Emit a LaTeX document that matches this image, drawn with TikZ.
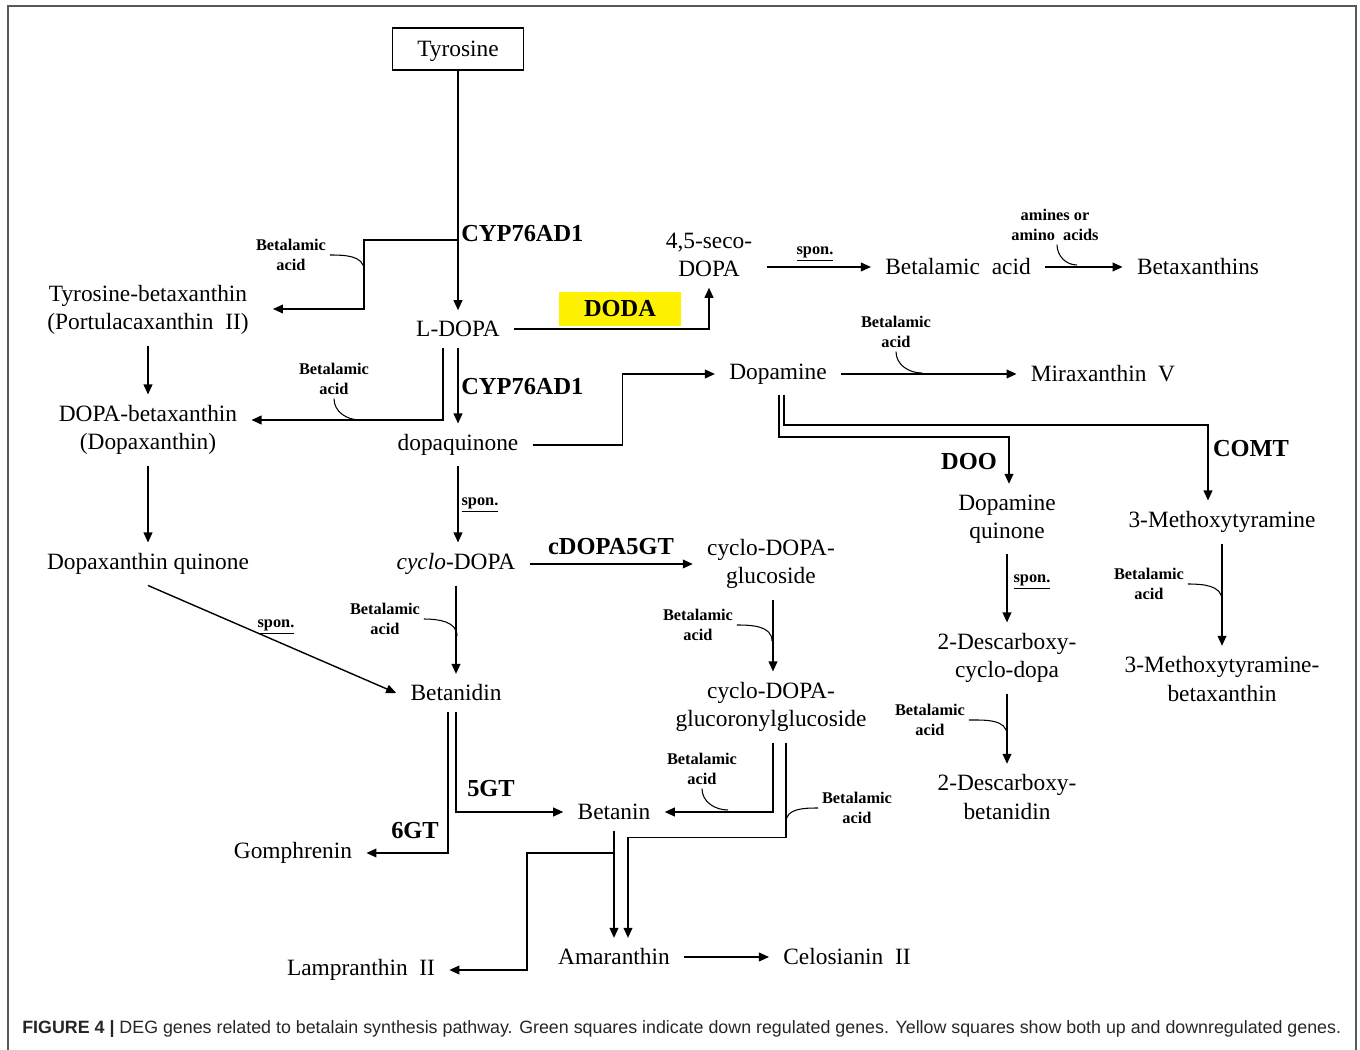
\documentclass[tikz,border=0pt]{standalone}
\usepackage{fontspec}
\setmainfont{Liberation Serif}
\newfontfamily\capfont{Liberation Sans}
\usetikzlibrary{arrows.meta,calc}
\newcommand{\molsz}{\fontsize{13.3}{16}\selectfont}
\newcommand{\gensz}{\fontsize{13.9}{16}\selectfont\bfseries}
\newcommand{\cofsz}{\fontsize{9.3}{11.4}\selectfont\bfseries}
\newcommand{\spon}{\underline{spon.}}

\begin{document}
\begin{tikzpicture}[x=0.02cm,y=-0.02cm,
  mol/.style={font=\molsz,align=center,inner xsep=8pt,inner ysep=6pt},
  gene/.style={font=\gensz,inner sep=0pt},
  cofac/.style={font=\cofsz,align=center,inner sep=2pt},
  flow/.style={-{Triangle[length=5.7pt,width=5pt]},line width=0.8pt},
  hook/.style={line width=0.6pt}
]
\useasboundingbox (0,0) rectangle (1360,1050);
\draw[black!65,line width=1pt] (8,1050) -- (8,6) -- (1356,6) -- (1356,1050);

% main column
\node[mol,draw,line width=0.8pt,minimum width=2.62cm,minimum height=0.84cm,text depth=0pt] (tyr) at (458,49) {Tyrosine};
\node[mol] (ldopa) at (458,329) {L-DOPA};
\node[mol] (dq) at (458,445) {dopaquinone};
\node[mol] (cdopa) at (456,564) {\textit{cyclo}-DOPA};
\node[mol] (btd) at (456,693) {Betanidin};
\node[mol] (btn) at (614,812) {Betanin};
\node[mol] (gom) at (293,853) {Gomphrenin};
\node[mol] (lam) at (361,970) {Lampranthin\ \ II};
\node[mol] (ama) at (614,957) {Amaranthin};
\node[mol] (cel) at (847,957) {Celosianin\ \ II};
\node[mol] (cdg) at (771,564) {cyclo-DOPA-\\glucoside};
\node[mol] (cdgg) at (771,707) {cyclo-DOPA-\\glucoronylglucoside};

% left column
\node[mol] (tbx) at (148,310) {Tyrosine-betaxanthin\\(Portulacaxanthin\ \ II)};
\node[mol] (dbx) at (148,430) {DOPA-betaxanthin\\(Dopaxanthin)};
\node[mol] (dxq) at (148,564) {Dopaxanthin quinone};

% right part
\node[mol] (seco) at (709,255) {4,5-seco-\\DOPA};
\node[mol] (bac) at (958,267) {Betalamic\ \ acid};
\node[mol] (bxs) at (1198,267) {Betaxanthins};
\node[mol] (dop) at (778,374) {Dopamine};
\node[mol] (mir) at (1103,374) {Miraxanthin\ \ V};
\node[mol] (dopq) at (1007,519) {Dopamine\\quinone};
\node[mol] (mtyr) at (1222,522) {3-Methoxytyramine};
\node[mol] (dcd) at (1007,658) {2-Descarboxy-\\cyclo-dopa};
\node[mol] (dcb) at (1007,797) {2-Descarboxy-\\betanidin};
\node[mol] (mtb) at (1222,679) {3-Methoxytyramine-\\betaxanthin};

% enzymes
\node[gene,anchor=west] (cyp1) at (461,234) {CYP76AD1};
\node[gene,anchor=west] (cyp2) at (461,387) {CYP76AD1};
\node[gene,fill=yellow,minimum width=2.44cm,minimum height=0.68cm] (doda) at (620,309) {DODA};
\node[gene] (doo) at (969,462) {DOO};
\node[gene] (comt) at (1251,449) {COMT};
\node[gene] (cdgt) at (611,547) {cDOPA5GT};
\node[gene] (gt5) at (491,789) {5GT};
\node[gene] (gt6) at (415,831) {6GT};

% co-substrates
\node[cofac] (ba1) at (291,255) {Betalamic\\acid};
\node[cofac] (ba2) at (334,379) {Betalamic\\acid};
\node[cofac] (amn) at (1055,225) {amines or\\amino\ \ acids};
\node[cofac] (ba3) at (896,332) {Betalamic\\acid};
\node[cofac] (ba4) at (385,619) {Betalamic\\acid};
\node[cofac] (ba5) at (698,625) {Betalamic\\acid};
\node[cofac] (ba6) at (702,769) {Betalamic\\acid};
\node[cofac] (ba7) at (857,808) {Betalamic\\acid};
\node[cofac] (ba8) at (930,720) {Betalamic\\acid};
\node[cofac] (ba9) at (1149,584) {Betalamic\\acid};
\node[cofac] (sp1) at (815,254) {\spon};
\node[cofac] (sp2) at (480,505) {\spon};
\node[cofac] (sp3) at (276,627) {\spon};
\node[cofac] (sp4) at (1032,582) {\spon};

% branch points
\coordinate (b1) at (458,240);
\coordinate (b2) at (614,853);
\coordinate (j1) at (364,270);
\coordinate (j2) at (360,420);
\coordinate (j3) at (1077,265);
\coordinate (j4) at (922,373);
\coordinate (j5) at (457,636);
\coordinate (j6) at (772,641);
\coordinate (j7) at (728,810);
\coordinate (j8) at (786,822);
\coordinate (j9) at (1007,735);
\coordinate (j10) at (1222,600);

% arrows
\draw[flow] (tyr.south) -- (ldopa.north);
\draw[flow] (b1) -- ++(-94,0) |- ($(tbx.east)+(10,-1)$);
\draw[flow] (ldopa.south) -- (dq.north);
\draw[flow] ($(ldopa.south)+(-15,0)$) |- ($(dbx.east)+(0,-10)$);
\draw[flow] (ldopa.east) -| (seco.south);
\draw[flow] (seco.east |- bac.west) -- (bac.west);
\draw[flow] (bac.east) -- (bxs.west);
\draw[flow] (dq.east) -- ++(90,0) |- (dop.west);
\draw[flow] (dop.east) -- (mir.west);
\draw[flow] ($(dop.south)+(1,0)$) -- ++(0,42) -| ($(dopq.north)+(2,0)$);
\draw[flow] ($(dop.south)+(6,0)$) -- ++(0,30) -| ($(mtyr.north)+(-14,0)$);
\draw[flow] (dq.south) -- (dq.south |- cdopa.north);
\draw[flow] (dxq.south) -- (btd.west);
\draw[flow] (cdopa.south) -- (btd.north);
\draw[flow] (cdopa.east) -- (cdg.west |- cdopa.east);
\draw[flow] ($(cdg.south)+(2,0)$) -- ($(cdgg.north)+(2,0)$);
\draw[flow] (btd.south) |- (btn.west);
\draw[flow] ($(btd.south)+(-8,0)$) |- (gom.east);
\draw[flow] ($(cdgg.south)+(2,0)$) |- (btn.east);
\draw[flow] ($(cdgg.south)+(15,0)$) -- ++(0,95) -| ($(ama.north)+(14,0)$);
\draw[flow] (btn.south) -- (ama.north);
\draw[flow] (b2) -- ++(-87,0) |- (lam.east);
\draw[flow] (ama.east) -- (cel.west);
\draw[flow] (tbx.south) -- (dbx.north);
\draw[flow] (dbx.south) -- (dxq.north);
\draw[flow] (dopq.south) -- (dcd.north);
\draw[flow] (dcd.south) -- (dcb.north);
\draw[flow] (mtyr.south) -- (mtb.north);

% co-substrate hooks
\draw[hook] (ba1.east) to[out=0,in=90] (j1);
\draw[hook] (ba2.south) to[out=-90,in=180] (j2);
\draw[hook] ($(amn.south)+(2,0)$) to[out=-90,in=180] (j3);
\draw[hook] (ba3.south) to[out=-90,in=180] (j4);
\draw[hook] (ba4.east) to[out=0,in=90] (j5);
\draw[hook] (ba5.east) to[out=0,in=90] (j6);
\draw[hook] (ba6.south) to[out=-90,in=180] (j7);
\draw[hook] (ba7.west) to[out=180,in=90] (j8);
\draw[hook] (ba8.east) to[out=0,in=90] (j9);
\draw[hook] (ba9.east) to[out=0,in=90] (j10);

\node[anchor=west,inner sep=0pt,text=black!85,font=\capfont\fontsize{10.15}{12}\selectfont] (cap) at (22,1029)
  {\textbf{FIGURE 4 |} DEG genes related to betalain synthesis pathway. Green squares indicate down regulated genes. Yellow squares show both up and downregulated genes.};
\end{tikzpicture}
\end{document}
